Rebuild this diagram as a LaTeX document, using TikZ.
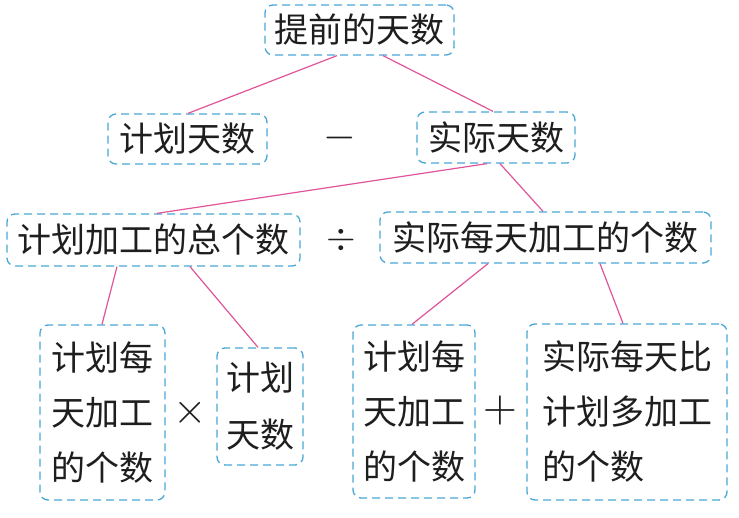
\documentclass[tikz,border=0pt]{standalone}
\usepackage{fontspec}
\setmainfont{Noto Sans CJK SC}
\definecolor{boxblue}{HTML}{4AA6D6}
\definecolor{linkpink}{HTML}{E0559A}
\definecolor{ink}{HTML}{1E1E1E}
\begin{document}
\begin{tikzpicture}[x=1pt,y=-1pt,
  box/.style={draw=boxblue, dash pattern=on 8pt off 5pt, line width=1.3pt,
    rounded corners=8pt, inner sep=0pt, text=ink,
    font=\fontsize{34}{55}\selectfont},
  opsym/.style={text=ink, inner sep=0pt},
  link/.style={draw=linkpink, line width=1.2pt}]
\useasboundingbox (0,0) rectangle (739,518);
\fill[white] (0,0) rectangle (739,518);
% level 1
\node[box, minimum width=189pt, minimum height=50pt] (top) at (359.5,30) {提前的天数};
% level 2
\node[box, minimum width=159pt, minimum height=50pt] (jh) at (187.5,139) {计划天数};
\node[box, minimum width=158pt, minimum height=51pt] (sj) at (496,137.5) {实际天数};
\node[opsym] (minus) at (340,138) {\scalebox{4.2}{$-$}};
% level 3
\node[box, minimum width=293pt, minimum height=52pt] (zg) at (153.5,240) {计划加工的总个数};
\node[box, minimum width=331pt, minimum height=51pt] (sm) at (545.5,237.5) {实际每天加工的个数};
\node[opsym] (div) at (341,240) {\scalebox{3.8}{$\div$}};
% level 4
\node[box, minimum width=125pt, minimum height=175pt, align=center] (A) at (102.5,412.5) {计划每\\天加工\\的个数};
\node[box, minimum width=86pt, minimum height=117pt, align=center, font=\fontsize{34}{57}\selectfont] (B) at (260,406.5) {计划\\天数};
\node[opsym] (times) at (190,413) {\scalebox{4.3}{$\times$}};
\node[box, minimum width=122pt, minimum height=173pt, align=center] (C) at (414,411.5) {计划每\\天加工\\的个数};
\node[box, minimum width=200pt, minimum height=176pt, align=left] (D) at (627,412) {实际每天比\\计划多加工\\的个数};
\node[opsym] (plus) at (500,410) {\scalebox{4.4}{$+$}};
% connectors
\draw[link] ([xshift=-22.5pt]top.south) -- ([xshift=0.5pt]jh.north);
\draw[link] ([xshift=23.5pt]top.south) -- ([xshift=-3pt]sj.north);
\draw[link] ([xshift=-9pt]sj.south) -- ([xshift=3.5pt]zg.north);
\draw[link] ([xshift=4pt]sj.south) -- ([xshift=-2.5pt]sm.north);
\draw[link] ([xshift=-36.5pt]zg.south) -- ([xshift=-0.5pt]A.north);
\draw[link] ([xshift=36.5pt]zg.south) -- ([xshift=-2pt]B.north);
\draw[link] ([xshift=-57.5pt]sm.south) -- ([xshift=-2pt]C.north);
\draw[link] ([xshift=54.5pt]sm.south) -- ([xshift=-4pt]D.north);
\end{tikzpicture}
\end{document}
